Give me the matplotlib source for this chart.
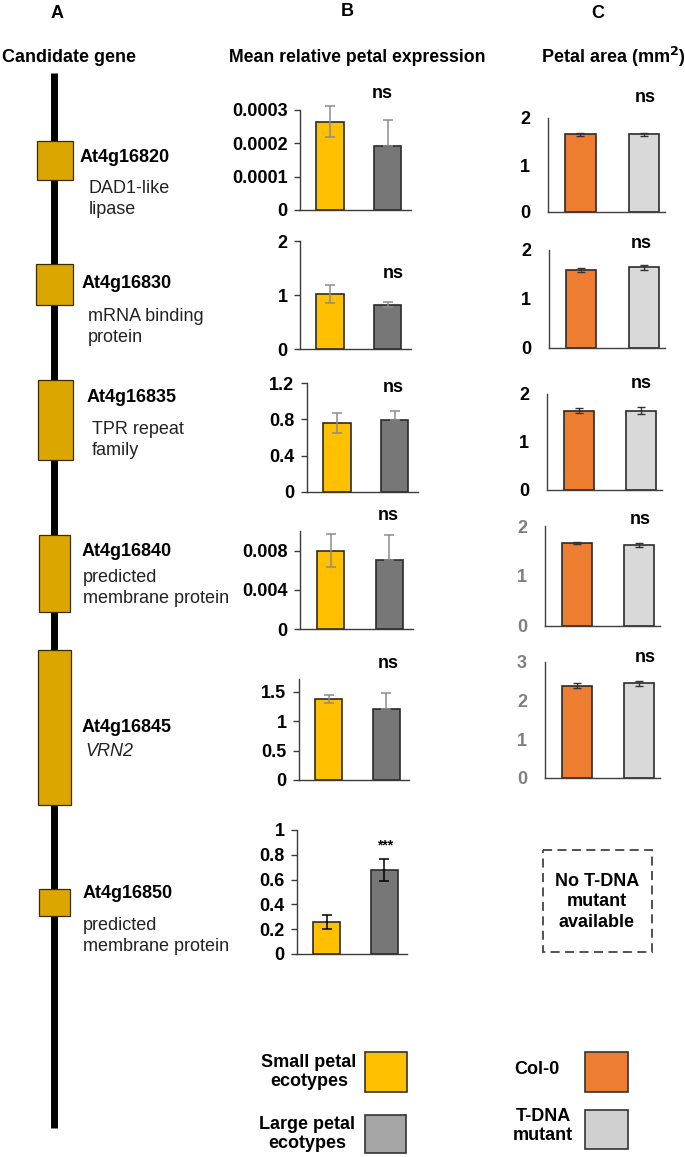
import matplotlib.pyplot as plt
from matplotlib.patches import Rectangle

plt.rcParams['font.family'] = ['Liberation Sans', 'DejaVu Sans']

W, H = 685, 1157

# data
genes = ['At4g16820', 'At4g16830', 'At4g16835', 'At4g16840', 'At4g16845', 'At4g16850']
gene_desc = ['DAD1-like\nlipase', 'mRNA binding\nprotein', 'TPR repeat\nfamily',
             'predicted\nmembrane protein', 'VRN2', 'predicted\nmembrane protein']

expr_small = [0.000265, 1.02, 0.76, 0.0080, 1.38, 0.26]
expr_small_err = [0.000047, 0.165, 0.105, 0.00166, 0.065, 0.055]
expr_large = [0.000193, 0.82, 0.79, 0.0070, 1.21, 0.68]
expr_large_err_up = [0.000078, 0.045, 0.105, 0.0026, 0.28, 0.09]
expr_large_err_low = [0, 0.045, 0, 0, 0, 0.09]
expr_sig = ['ns', 'ns', 'ns', 'ns', 'ns', '***']
expr_ymax = [0.0003, 2, 1.2, 0.01, 1.72, 1]
expr_ticks = [[0, 0.0001, 0.0002, 0.0003], [0, 1, 2], [0, 0.4, 0.8, 1.2],
              [0, 0.004, 0.008], [0, 0.5, 1, 1.5], [0, 0.2, 0.4, 0.6, 0.8, 1]]

area_col0 = [1.65, 1.60, 1.65, 1.67, 2.39]
area_col0_err = [0.04, 0.04, 0.05, 0.02, 0.06]
area_tdna = [1.65, 1.65, 1.65, 1.62, 2.45]
area_tdna_err = [0.04, 0.05, 0.07, 0.04, 0.06]
area_sig = ['ns', 'ns', 'ns', 'ns', 'ns']
area_ymax = [2, 2, 2, 2, 3]

# layout in pixels (x0, y0, x1, y1)
b_axes = [(300, 110, 411, 210), (300, 241, 411, 349), (307, 383, 418, 492),
          (300, 531, 413, 629), (299, 679, 409, 780), (297, 830, 407, 954)]
c_axes = [(548, 118, 665, 212), (549, 250, 665, 348), (547, 394, 662, 490),
          (545, 526, 660, 626), (545, 662, 660, 778)]
b_sig_pos = [(382, 93), (393, 273), (393, 388), (388, 515), (388, 663), (385, 845)]
c_sig_pos = [(645, 98), (641, 243), (641, 383), (640, 519), (645, 657)]
gene_box = [(37, 141, 73, 180), (36, 264, 73, 305), (38, 380, 73, 460),
            (39, 535, 70, 612), (38, 650, 71, 805), (39, 889, 70, 916)]
gene_lab = [(80, 158), (82, 284), (87, 397), (82, 552), (82, 727), (83, 894)]
gene_desc_pos = [(89, 199), (88, 327), (92, 440), (83, 588), (85, 751), (83, 936)]

YELLOW, DGRAY, ORANGE, LGRAY = '#FFC000', '#777777', '#ED7D31', '#D9D9D9'
FS = 13

fig = plt.figure(figsize=(W / 100, H / 100), dpi=100)


def px_axes(box):
    x0, y0, x1, y1 = box
    return fig.add_axes([x0 / W, 1 - y1 / H, (x1 - x0) / W, (y1 - y0) / H])


# column B: expression
for i in range(6):
    ax = px_axes(b_axes[i])
    ax.bar([0, 1], [expr_small[i], expr_large[i]], width=0.47,
           color=[YELLOW, DGRAY], edgecolor='#2b2b2b', linewidth=1.2, zorder=2)
    ecol = 'black' if i == 5 else '#8c8c8c'
    ax.errorbar([0, 1], [expr_small[i], expr_large[i]],
                yerr=[[expr_small_err[i], expr_large_err_low[i]],
                      [expr_small_err[i], expr_large_err_up[i]]], fmt='none',
                ecolor=ecol, elinewidth=1.1, capsize=3.5, capthick=1.1,
                zorder=3, clip_on=False)
    ax.set_xlim(-0.52, 1.40)
    ax.set_ylim(0, expr_ymax[i])
    ax.set_yticks(expr_ticks[i])
    ax.set_yticklabels([f'{v:g}' for v in expr_ticks[i]], fontweight='bold', fontsize=FS)
    ax.set_xticks([])
    for s in ['top', 'right']:
        ax.spines[s].set_visible(False)
    for s in ['left', 'bottom']:
        ax.spines[s].set_color('#3a3a3a')
        ax.spines[s].set_linewidth(1.0)
    ax.tick_params(axis='y', length=4, width=1, color='#3a3a3a', pad=5)
    ax.patch.set_alpha(0)

# column C: petal area
for i in range(5):
    ax = px_axes(c_axes[i])
    ax.bar([0, 1], [area_col0[i], area_tdna[i]], width=0.48,
           color=[ORANGE, LGRAY], edgecolor='#2b2b2b', linewidth=1.2, zorder=2)
    ax.errorbar([0, 1], [area_col0[i], area_tdna[i]],
                yerr=[area_col0_err[i], area_tdna_err[i]], fmt='none',
                ecolor='#333333', elinewidth=1.0, capsize=3, capthick=1.0, zorder=3)
    ax.set_xlim(-0.51, 1.33)
    ax.set_ylim(0, area_ymax[i])
    ticks = list(range(area_ymax[i] + 1))
    ax.set_yticks(ticks)
    lcol = '#7f7f7f' if i >= 3 else 'black'
    ax.set_yticklabels([str(t) for t in ticks], fontweight='bold', fontsize=FS, color=lcol)
    ax.set_xticks([])
    for s in ['top', 'right']:
        ax.spines[s].set_visible(False)
    for s in ['left', 'bottom']:
        ax.spines[s].set_color('#404040')
        ax.spines[s].set_linewidth(1.0)
    ax.tick_params(axis='y', length=0, pad=13)
    ax.patch.set_alpha(0)

# overlay for schematic, annotations, legends
ov = fig.add_axes([0, 0, 1, 1])
ov.set_xlim(0, W)
ov.set_ylim(H, 0)
ov.axis('off')

ov.text(57, 13, 'A', fontsize=13, fontweight='bold', ha='center', va='center')
ov.text(347, 11, 'B', fontsize=13, fontweight='bold', ha='center', va='center')
ov.text(598, 13, 'C', fontsize=13, fontweight='bold', ha='center', va='center')
ov.text(69, 57, 'Candidate gene', fontsize=13, fontweight='bold', ha='center', va='center')
ov.text(357, 57, 'Mean relative petal expression', fontsize=12.7, fontweight='bold',
        ha='center', va='center')
ov.text(613, 57, 'Petal area (mm$^{\\mathbf{2}}$)', fontsize=13, fontweight='bold',
        ha='center', va='center')

# chromosome and genes
ov.plot([54, 54], [73, 1128], color='black', lw=5, solid_capstyle='butt')
for i in range(6):
    x0, y0, x1, y1 = gene_box[i]
    ov.add_patch(Rectangle((x0, y0), x1 - x0, y1 - y0, facecolor='#DBA600',
                           edgecolor='#3a2c00', lw=0.9, zorder=3))
    ov.text(gene_lab[i][0], gene_lab[i][1], genes[i], fontsize=FS, fontweight='bold',
            ha='left', va='center')
    ov.text(gene_desc_pos[i][0], gene_desc_pos[i][1], gene_desc[i], fontsize=FS,
            ha='left', va='center', color='#222222', linespacing=1.25,
            style='italic' if gene_desc[i] == 'VRN2' else 'normal')

for i in range(6):
    fs = 10 if expr_sig[i] == '***' else FS
    ov.text(b_sig_pos[i][0], b_sig_pos[i][1], expr_sig[i], fontsize=fs,
            fontweight='bold', ha='center', va='center')
for i in range(5):
    ov.text(c_sig_pos[i][0], c_sig_pos[i][1], area_sig[i], fontsize=FS,
            fontweight='bold', ha='center', va='center')

# no mutant box
ov.add_patch(Rectangle((543, 850), 109, 102, fill=False, edgecolor='#444444',
                       lw=1.3, ls=(0, (5, 3))))
ov.text(597, 902, 'No T-DNA\nmutant\navailable', fontsize=FS, fontweight='bold',
        ha='center', va='center', linespacing=1.3)

# legends
legend_items = [('Small petal\necotypes', 309, 1072, YELLOW, (365, 1052, 42, 40)),
                ('Large petal\necotypes', 307, 1134, '#A5A5A5', (365, 1115, 41, 38)),
                ('Col-0', 537, 1070, ORANGE, (585, 1052, 43, 40)),
                ('T-DNA\nmutant', 543, 1126, '#D0D0D0', (585, 1110, 43, 39))]
for lab, tx, ty, col, (rx, ry, rw, rh) in legend_items:
    ov.text(tx, ty, lab, fontsize=FS, fontweight='bold', ha='center', va='center',
            linespacing=1.2)
    ov.add_patch(Rectangle((rx, ry), rw, rh, facecolor=col, edgecolor='#333333', lw=1.2))

fig.savefig('out.png', dpi=100)
